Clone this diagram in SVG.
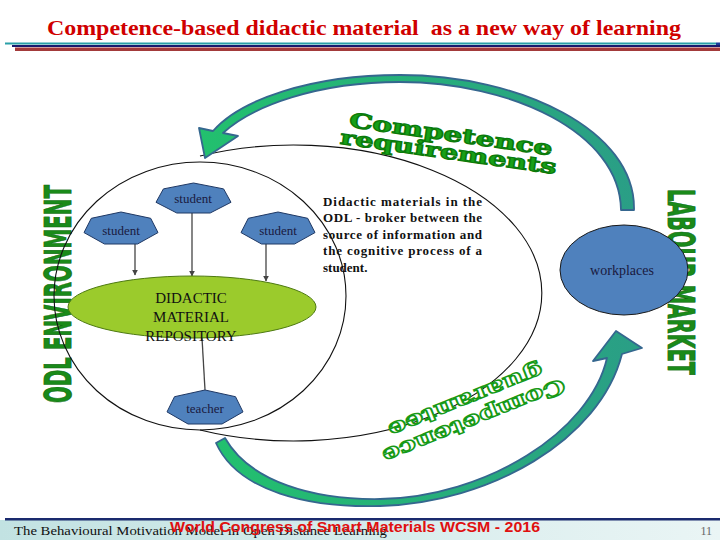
<svg xmlns="http://www.w3.org/2000/svg" width="720" height="540" viewBox="0 0 720 540">
<style>
.title{font-family:"Liberation Serif",serif;font-weight:bold;font-size:22px;fill:#D00000}
.hept{fill:#4F81BD;stroke:#1F3864;stroke-width:1}
.ntxt{font-family:"Liberation Serif","Times New Roman",serif;font-size:13px;fill:#1A1A40;text-anchor:middle}
.rep{font-family:"Liberation Serif","Times New Roman",serif;font-size:15px;fill:#111;text-anchor:middle}
.para{font-family:"Liberation Serif","Times New Roman",serif;font-weight:bold;font-size:13px;fill:#111}
.big{font-family:"DejaVu Sans","Liberation Sans",sans-serif;font-weight:bold;font-size:38px;fill:#1A8A1A;stroke:#0E6A0E;stroke-width:0.8}
.wa{font-family:"DejaVu Serif","Liberation Serif",serif;font-weight:bold;font-size:20px;fill:#17A017;stroke:#0B7A0B;stroke-width:1.2;text-anchor:middle}
.wa2{font-family:"DejaVu Serif","Liberation Serif",serif;font-weight:bold;font-size:20px;fill:#FFFFFF;stroke:#179A17;stroke-width:1.4;text-anchor:middle}
.band{fill:url(#bandg);stroke:#35678F;stroke-width:1.8;stroke-linejoin:round}
.conn{stroke:#444;stroke-width:1.3;fill:none}
</style>
<defs>
<linearGradient id="bandg" x1="0" y1="0" x2="1" y2="0">
<stop offset="0" stop-color="#22C06E"/>
<stop offset="1" stop-color="#2A9E86"/>
</linearGradient>
<linearGradient id="footg" x1="0" y1="0" x2="1" y2="0">
<stop offset="0" stop-color="#C2E2E2"/>
<stop offset="1" stop-color="#EAF5F5"/>
</linearGradient>
<marker id="ah" viewBox="0 0 10 10" refX="9" refY="5" markerWidth="6" markerHeight="6" orient="auto" markerUnits="userSpaceOnUse">
<path d="M0,0 L10,5 L0,10 Z" fill="#444"/>
</marker>
</defs>

<!-- header -->
<g id="header">
<text class="title" x="364" y="35" text-anchor="middle" textLength="634" lengthAdjust="spacingAndGlyphs" xml:space="preserve">Competence-based didactic material  as a new way of learning</text>
<rect x="5" y="42.5" width="711" height="2" fill="#2AA0A8"/>
<rect x="716" y="42.5" width="4" height="4" fill="#1A3C9A"/>
<rect x="12" y="45" width="708" height="2" fill="#1A1A6E"/>
<rect x="15" y="47.5" width="705" height="3.5" fill="#A33A3A"/>
</g>

<!-- big side labels -->
<g id="odl-environment">
<text class="big" transform="translate(71,294) rotate(-90)" text-anchor="middle" textLength="218" lengthAdjust="spacingAndGlyphs">ODL ENVIRONMENT</text>
</g>
<g id="labour-market">
<text class="big" transform="translate(668,282) rotate(90)" text-anchor="middle" textLength="186" lengthAdjust="spacingAndGlyphs">LABOUR MARKET</text>
</g>

<!-- outlines -->
<g id="outlines" fill="none" stroke="#111" stroke-width="1.1">
<path d="M200,156 A248,148 0 1,1 200,430"/>
<ellipse cx="200" cy="296" rx="146" ry="134"/>
</g>

<!-- wordart labels -->
<g id="competence-requirements" transform="translate(450,141) rotate(8)">
<text class="wa" x="0" y="0" textLength="205" lengthAdjust="spacingAndGlyphs">Competence</text>
<text class="wa" x="0" y="18" textLength="218" lengthAdjust="spacingAndGlyphs">requirements</text>
</g>
<g id="competence-guarantee" transform="translate(474,421) rotate(158)">
<text class="wa2" x="0" y="7" textLength="195" lengthAdjust="spacingAndGlyphs">Competence</text>
<text class="wa2" x="0" y="29" textLength="165" lengthAdjust="spacingAndGlyphs">guarantee</text>
</g>

<!-- curved arrows -->
<g id="arrow-requirements">
<path class="band" d="M634,210 C636,130 520,75 400,75 C310,75 240,100 213,131 L199,128 L205,158 L238,136 L223,133 C252,106 318,82 400,82 C510,82 620,132 621,210 Z"/>
</g>
<g id="arrow-guarantee">
<path class="band" d="M216,443 C238,492 310,508 380,506 C490,503 600,440 622,354 L642,348 L616,331 L593,361 L607,358 C590,432 486,497 380,499 C314,500 250,482 225,438 Z"/>
</g>

<!-- connectors -->
<g id="connectors">
<line class="conn" x1="135" y1="244" x2="135" y2="275" marker-end="url(#ah)"/>
<line class="conn" x1="192" y1="213" x2="192" y2="276" marker-end="url(#ah)"/>
<line class="conn" x1="266" y1="244" x2="266" y2="281" marker-end="url(#ah)"/>
<line class="conn" x1="202" y1="338" x2="205" y2="390"/>
</g>

<!-- repository -->
<g id="repository">
<ellipse cx="192" cy="307" rx="124" ry="31" fill="#9BCB2C" stroke="#4E7A12" stroke-width="1"/>
<text class="rep" x="191" y="303">DIDACTIC</text>
<text class="rep" x="191" y="322">MATERIAL</text>
<text class="rep" x="191" y="341">REPOSITORY</text>
</g>

<!-- students / teacher -->
<g id="student-top">
<polygon class="hept" points="193.5,183 223.6,188.9 231,202.3 210.2,213 176.8,213 156,202.3 163.4,188.9"/>
<text class="ntxt" x="193" y="203">student</text>
</g>
<g id="student-left">
<polygon class="hept" points="121,212 150.7,218.3 158,232.6 137.5,244 104.5,244 84,232.6 91.3,218.3"/>
<text class="ntxt" x="121" y="235">student</text>
</g>
<g id="student-right">
<polygon class="hept" points="278,212 307.7,218.3 315,232.6 294.5,244 261.5,244 241,232.6 248.3,218.3"/>
<text class="ntxt" x="278" y="235">student</text>
</g>
<g id="teacher">
<polygon class="hept" points="205,390 235.5,396.7 243,411.9 222,424 188,424 167,411.9 174.5,396.7"/>
<text class="ntxt" x="205" y="413">teacher</text>
</g>

<!-- paragraph -->
<g id="description">
<text class="para" x="323" y="206" textLength="159" lengthAdjust="spacing">Didactic materials in the</text>
<text class="para" x="323" y="222" textLength="159" lengthAdjust="spacing">ODL - broker between the</text>
<text class="para" x="323" y="239" textLength="159" lengthAdjust="spacing">source of information and</text>
<text class="para" x="323" y="255" textLength="159" lengthAdjust="spacing">the cognitive process of a</text>
<text class="para" x="323" y="272">student.</text>
</g>

<!-- workplaces -->
<g id="workplaces">
<ellipse cx="624" cy="270" rx="64" ry="45" fill="#4F81BD" stroke="#1A1A1A" stroke-width="1"/>
<text x="622" y="275" font-family="'Liberation Serif', 'Times New Roman', serif" font-size="14" fill="#1A1A40" text-anchor="middle">workplaces</text>
</g>

<!-- footer -->
<g id="footer">
<rect x="0" y="520" width="720" height="20" fill="url(#footg)"/>
<rect x="5" y="518" width="715" height="2.5" fill="#1A2A6E"/>
<text x="14" y="535" font-family="'Liberation Serif', serif" font-size="13" fill="#111" textLength="373" lengthAdjust="spacingAndGlyphs">The Behavioural Motivation Model in Open Distance Learning</text>
<text x="170" y="532" font-family="'Liberation Sans', sans-serif" font-weight="bold" font-size="15" fill="#E01010" textLength="370" lengthAdjust="spacingAndGlyphs">World Congress of Smart Materials WCSM - 2016</text>
<text x="712" y="535" font-family="'Liberation Serif', serif" font-size="12" fill="#666" text-anchor="end">11</text>
</g>
</svg>
